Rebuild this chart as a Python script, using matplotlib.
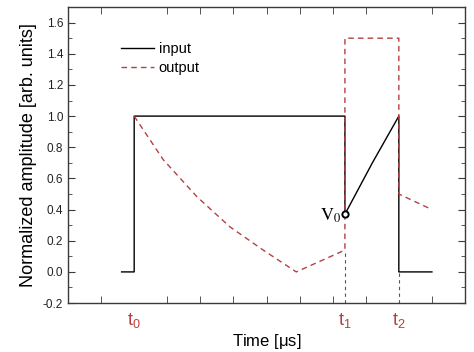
import numpy as np
import matplotlib
matplotlib.use('Agg')
import matplotlib.pyplot as plt
from matplotlib.ticker import MultipleLocator

plt.rcParams['font.family'] = ['Liberation Sans', 'DejaVu Sans']
plt.rcParams['mathtext.fontset'] = 'stix'

# pulse times (arb. x units)
t0, t1, t2 = 2.0, 8.37, 10.0
tLabels = [r'$\mathregular{t_0}$', r'$\mathregular{t_1}$', r'$\mathregular{t_2}$']

# input pulse (black, solid)
inX = [1.62, t0, t0, t1, t1, 9.2, t2, t2, 11.0]
inY = [0.0, 0.0, 1.0, 1.0, 0.37, 0.70, 1.0, 0.0, 0.0]

# output (red, dashed)
outX = [t0, 2.88, 3.89, 4.89, 5.90, 6.9, t1, t1, t2, t2, 11.0]
outY = [1.0, 0.72, 0.484, 0.29, 0.14, 0.0, 0.14, 1.5, 1.5, 0.5, 0.4]

v0 = (t1, 0.37)

red = '#b5403f'
frame = '#3a3a3a'

fig = plt.figure(figsize=(4.74, 3.52), dpi=100)
ax = fig.add_axes([0.1435, 0.139, 0.8375, 0.841])

ax.plot(inX, inY, color='black', lw=1.0, label='input')
ax.plot(outX, outY, color=red, lw=1.0, ls=(0, (4, 3)), label='output')

# guide lines down to the time axis
ax.plot([t1, t1], [-0.2, 0.14], color='#6a4a4a', lw=0.8, ls=(0, (3, 3)))
ax.plot([t2, t2], [-0.2, 0.0], color='#555555', lw=0.8, ls=(0, (3, 3)))

ax.plot([v0[0]], [v0[1]], 'o', mfc='white', mec='black', mew=1.4, ms=4.5)
ax.text(v0[0] - 0.12, v0[1] - 0.01, r'$\mathrm{V}_0$', fontsize=13,
        ha='right', va='center')

ax.set_xlim(0, 12)
ax.set_ylim(-0.2, 1.7)

ax.set_xticks([t0, t1, t2])
ax.set_xticklabels(tLabels, color=red)
ax.xaxis.set_minor_locator(MultipleLocator(1))
ax.yaxis.set_minor_locator(MultipleLocator(0.1))
ax.set_yticks(np.arange(-0.2, 1.61, 0.2))
ax.set_yticklabels(['%.1f' % v for v in np.arange(-0.2, 1.61, 0.2)])

ax.tick_params(axis='both', which='both', direction='in', top=True, right=True,
               colors=frame, labelcolor='#222222', labelsize=8.5)
ax.tick_params(axis='x', which='major', length=0, labelcolor=red,
               labelsize=13, pad=6)
ax.tick_params(axis='x', which='minor', length=5)
ax.tick_params(axis='y', which='major', length=5)
ax.tick_params(axis='y', which='minor', length=3)
for s in ax.spines.values():
    s.set_color(frame)
    s.set_linewidth(1.0)

ax.set_xlabel(r'Time [$\mathregular{\mu}$s]', fontsize=12, labelpad=1)
ax.set_ylabel('Normalized amplitude [arb. units]', fontsize=13, labelpad=4)

ax.legend(loc='upper left', bbox_to_anchor=(0.1, 0.925), frameon=False,
          fontsize=10.5, handlelength=2.3, handletextpad=0.3, labelspacing=0.35)

fig.savefig('out.png', dpi=100)
